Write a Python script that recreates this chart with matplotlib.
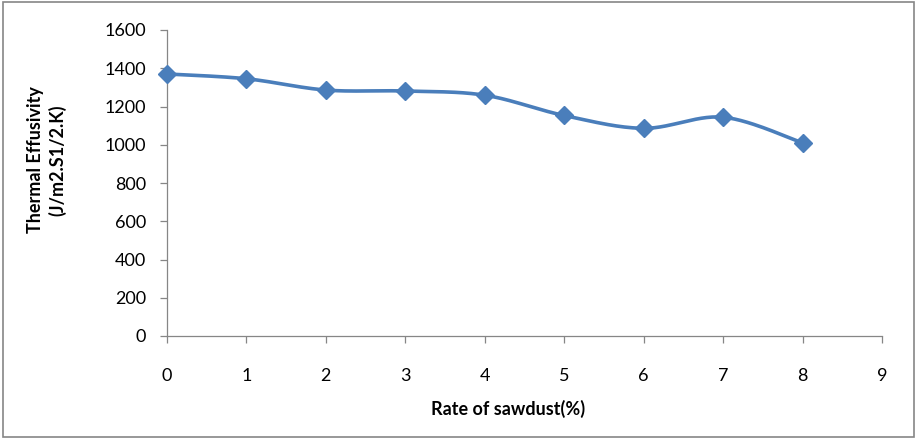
import numpy as np
import matplotlib
matplotlib.use("Agg")
import matplotlib.pyplot as plt
from matplotlib.patches import Rectangle

x_vals = [0, 1, 2, 3, 4, 5, 6, 7, 8]
effusivity = [1370, 1345, 1286, 1281, 1259, 1153, 1086, 1144, 1010]
x_ticks = [0, 1, 2, 3, 4, 5, 6, 7, 8, 9]
y_ticks = [0, 200, 400, 600, 800, 1000, 1200, 1400, 1600]

plt.rcParams['font.family'] = ['Lato', 'DejaVu Sans']

W, H = 919, 442
fig = plt.figure(figsize=(W / 100, H / 100), dpi=100)
ax = fig.add_axes([167 / W, 1 - 336 / H, (882 - 167) / W, (336 - 30) / H])

def smooth(xs, ys, n=30):
    # Excel-like smoothed line: Catmull-Rom style Bezier through the points
    xs = np.asarray(xs, float); ys = np.asarray(ys, float)
    px = np.concatenate([[xs[0]], xs, [xs[-1]]])
    py = np.concatenate([[ys[0]], ys, [ys[-1]]])
    outx, outy = [], []
    t = np.linspace(0, 1, n)
    for i in range(1, len(px) - 2):
        p0 = np.array([px[i], py[i]]); p3 = np.array([px[i + 1], py[i + 1]])
        c1 = p0 + (np.array([px[i + 1], py[i + 1]]) - np.array([px[i - 1], py[i - 1]])) / 6
        c2 = p3 - (np.array([px[i + 2], py[i + 2]]) - np.array([px[i], py[i]])) / 6
        b = ((1 - t) ** 3)[:, None] * p0 + (3 * (1 - t) ** 2 * t)[:, None] * c1 \
            + (3 * (1 - t) * t ** 2)[:, None] * c2 + (t ** 3)[:, None] * p3
        outx.extend(b[:, 0]); outy.extend(b[:, 1])
    return outx, outy

sx, sy = smooth(x_vals, effusivity)
color = '#4A7EBB'
ax.plot(sx, sy, color=color, lw=2.6, solid_capstyle='round', zorder=3)
ax.plot(x_vals, effusivity, ls='none', marker='D', ms=9.5, color=color,
        markeredgecolor=color, zorder=4, clip_on=False)

ax.set_xlim(0, 9)
ax.set_ylim(0, 1600)
ax.set_xticks(x_ticks)
ax.set_yticks(y_ticks)
for s in ['top', 'right']:
    ax.spines[s].set_visible(False)
for s in ['left', 'bottom']:
    ax.spines[s].set_color('#868686')
    ax.spines[s].set_linewidth(0.9)
ax.tick_params(axis='both', direction='out', color='#868686', length=5, width=0.9,
               labelsize=13, labelcolor='black')
ax.tick_params(axis='x', pad=18)
ax.tick_params(axis='y', pad=10)

fig.text(47 / W, 1 - 160 / H, 'Thermal Effusivity\n(J/m2.S1/2.K)', rotation=90,
         ha='center', va='center', fontsize=13, fontweight='bold', linespacing=1.3)
fig.text(508 / W, 1 - 409 / H, 'Rate of sawdust(%)', ha='center', va='center',
         fontsize=13, fontweight='bold')

fig.patches.append(Rectangle((3 / W, 1 - 437 / H), 911 / W, 435 / H,
                             transform=fig.transFigure, fill=False,
                             edgecolor='#868686', lw=1.2))

fig.savefig('out.png', dpi=100)
